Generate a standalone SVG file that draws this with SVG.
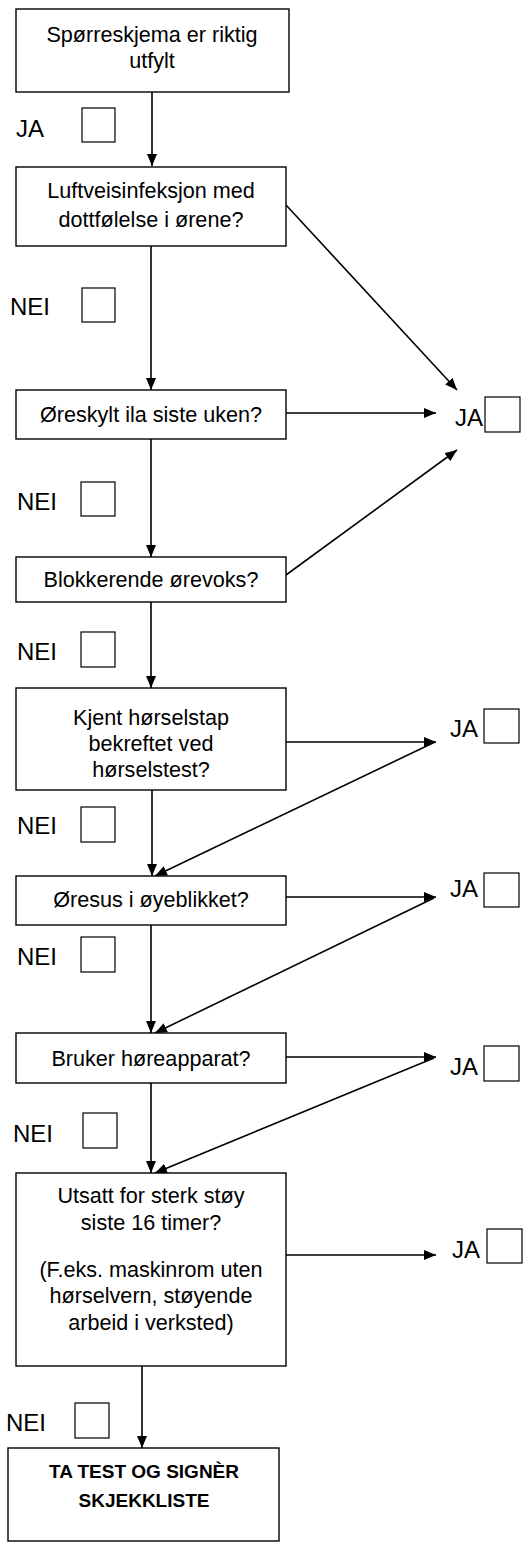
<svg xmlns="http://www.w3.org/2000/svg" width="528" height="1543" viewBox="0 0 528 1543">
<style>
.box{fill:#fff;stroke:#000;stroke-width:1.4}
.cb{fill:#fff;stroke:#000;stroke-width:1.2}
.t{font-family:"Liberation Sans",Arial,sans-serif;font-size:21.6px;fill:#000;text-anchor:middle}
.b{font-family:"Liberation Sans",Arial,sans-serif;font-size:19px;font-weight:bold;fill:#000;text-anchor:middle}
.l{font-family:"Liberation Sans",Arial,sans-serif;font-size:24px;fill:#000}
.c{stroke:#000;stroke-width:1.6;fill:none;marker-end:url(#ah)}
</style>
<defs>
<marker id="ah" viewBox="0 0 12 10" refX="12" refY="5" markerWidth="12" markerHeight="10" markerUnits="userSpaceOnUse" orient="auto">
<path d="M0,0 L12,5 L0,10 z" fill="#000"/>
</marker>
</defs>
<rect width="528" height="1543" fill="#fff"/>
<g id="connectors">
<line class="c" x1="152" y1="92" x2="152" y2="166"/>
<line class="c" x1="151" y1="246" x2="151" y2="390"/>
<line class="c" x1="286" y1="205" x2="457" y2="390"/>
<line class="c" x1="286" y1="413" x2="436" y2="413"/>
<line class="c" x1="151" y1="439" x2="151" y2="557"/>
<line class="c" x1="286" y1="575" x2="457" y2="450"/>
<line class="c" x1="151" y1="602" x2="151" y2="688"/>
<line class="c" x1="286" y1="742" x2="436" y2="742"/>
<line class="c" x1="435" y1="742" x2="155" y2="876"/>
<line class="c" x1="152" y1="790" x2="152" y2="876"/>
<line class="c" x1="286" y1="897" x2="436" y2="897"/>
<line class="c" x1="434" y1="898" x2="155" y2="1033"/>
<line class="c" x1="151" y1="925" x2="151" y2="1033"/>
<line class="c" x1="286" y1="1057" x2="436" y2="1057"/>
<line class="c" x1="434" y1="1058" x2="155" y2="1173"/>
<line class="c" x1="151" y1="1083" x2="151" y2="1173"/>
<line class="c" x1="286" y1="1255" x2="436" y2="1255"/>
<line class="c" x1="142" y1="1366" x2="142" y2="1448"/>
</g>
<g id="n1"><rect class="box" x="16" y="9" width="273" height="83"/><text class="t" x="152" y="42">Spørreskjema er riktig</text><text class="t" x="152" y="68">utfylt</text></g>
<g id="l1"><text class="l" x="16" y="137">JA</text><rect class="cb" x="82" y="108" width="33" height="34"/></g>
<g id="n2"><rect class="box" x="16" y="167" width="270" height="79"/><text class="t" x="151" y="198">Luftveisinfeksjon med</text><text class="t" x="151" y="227">dottfølelse i ørene?</text></g>
<g id="l2"><text class="l" x="10" y="315">NEI</text><rect class="cb" x="82" y="288" width="33" height="34"/></g>
<g id="n3"><rect class="box" x="16" y="390" width="270" height="49"/><text class="t" x="151" y="422">Øreskylt ila siste uken?</text></g>
<g id="j1"><text class="l" x="455" y="426">JA</text><rect class="cb" x="485" y="397" width="35" height="35"/></g>
<g id="l3"><text class="l" x="17" y="510">NEI</text><rect class="cb" x="81" y="482" width="34" height="34"/></g>
<g id="n4"><rect class="box" x="16" y="557" width="270" height="45"/><text class="t" x="151" y="587">Blokkerende ørevoks?</text></g>
<g id="l4"><text class="l" x="17" y="660">NEI</text><rect class="cb" x="81" y="632" width="34" height="35"/></g>
<g id="n5"><rect class="box" x="16" y="688" width="270" height="102"/><text class="t" x="151" y="725">Kjent hørselstap</text><text class="t" x="151" y="751">bekreftet ved</text><text class="t" x="151" y="777">hørselstest?</text></g>
<g id="j2"><text class="l" x="450" y="737">JA</text><rect class="cb" x="484" y="709" width="35" height="34"/></g>
<g id="l5"><text class="l" x="17" y="834">NEI</text><rect class="cb" x="81" y="807" width="34" height="35"/></g>
<g id="n6"><rect class="box" x="16" y="876" width="270" height="49"/><text class="t" x="151" y="907">Øresus i øyeblikket?</text></g>
<g id="j3"><text class="l" x="450" y="897">JA</text><rect class="cb" x="484" y="873" width="35" height="34"/></g>
<g id="l6"><text class="l" x="17" y="965">NEI</text><rect class="cb" x="81" y="937" width="34" height="35"/></g>
<g id="n7"><rect class="box" x="16" y="1033" width="270" height="50"/><text class="t" x="151" y="1066">Bruker høreapparat?</text></g>
<g id="j4"><text class="l" x="450" y="1075">JA</text><rect class="cb" x="484" y="1046" width="35" height="35"/></g>
<g id="l7"><text class="l" x="13" y="1142">NEI</text><rect class="cb" x="83" y="1113" width="34" height="35"/></g>
<g id="n8"><rect class="box" x="16" y="1173" width="270" height="193"/><text class="t" x="151" y="1203">Utsatt for sterk støy</text><text class="t" x="151" y="1230">siste 16 timer?</text><text class="t" x="151" y="1277">(F.eks. maskinrom uten</text><text class="t" x="151" y="1303">hørselvern, støyende</text><text class="t" x="151" y="1330">arbeid i verksted)</text></g>
<g id="j5"><text class="l" x="452" y="1258">JA</text><rect class="cb" x="487" y="1229" width="35" height="34"/></g>
<g id="l8"><text class="l" x="6" y="1431">NEI</text><rect class="cb" x="75" y="1403" width="34" height="35"/></g>
<g id="n9"><rect class="box" x="8" y="1448" width="271" height="93"/><text class="b" x="144" y="1478">TA TEST OG SIGNÈR</text><text class="b" x="144" y="1507">SKJEKKLISTE</text></g>
</svg>
